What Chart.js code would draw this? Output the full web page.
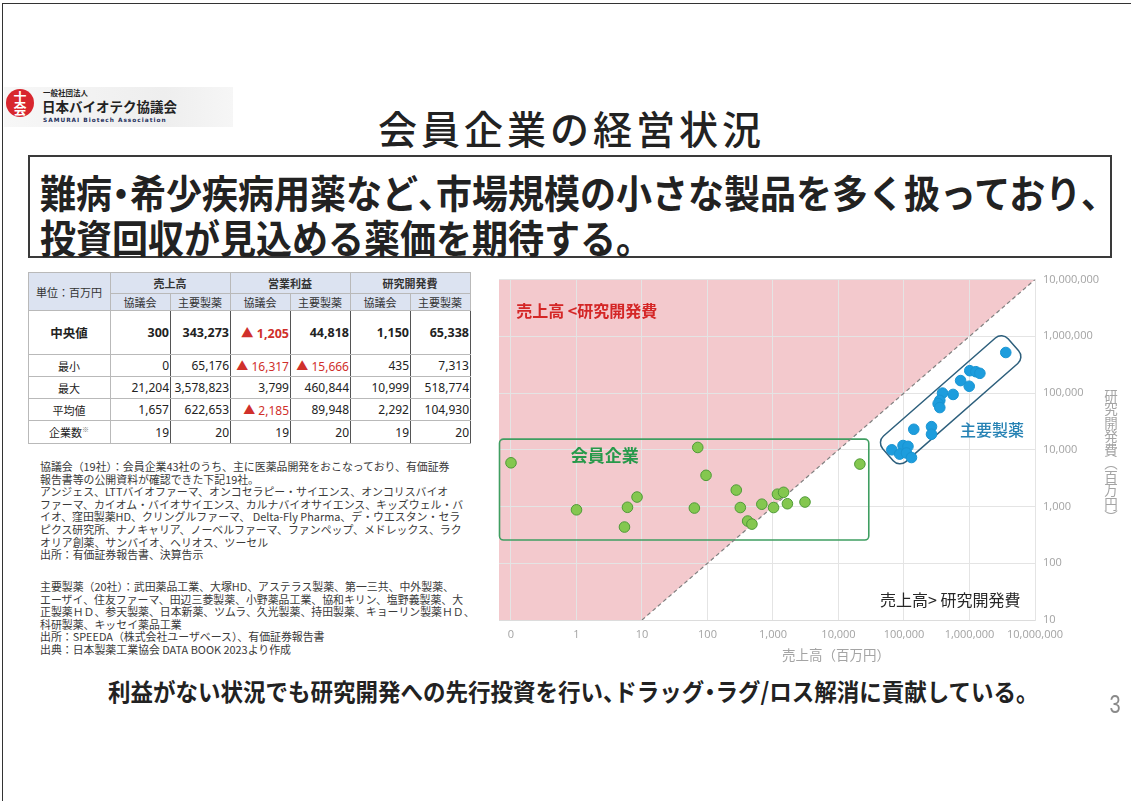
<!DOCTYPE html>
<html lang="ja">
<head>
<meta charset="utf-8">
<title>会員企業の経営状況</title>
<script src="https://cdn.jsdelivr.net/npm/chart.js@4.4.1/dist/chart.umd.min.js"></script>
<style>
  html, body { margin: 0; padding: 0; background: #fff; }
  body {
    width: 1131px; height: 801px; position: relative; overflow: hidden;
    font-family: "Noto Sans CJK JP", "Noto Sans", sans-serif; color: #222;
  }
  .frame { position: absolute; left: 2px; top: 3px; width: 1140px; height: 820px; border: 1.5px solid #333; }

  .logo-bg { position: absolute; left: 4px; top: 87px; width: 229px; height: 40px;
    background: linear-gradient(90deg, #f7f7f7, #eeeeee 70%, #f6f6f6); }
  .logo-mark { position: absolute; left: 6px; top: 89px; width: 28px; height: 28px; border-radius: 50%;
    background: #d8262e; color: #fff; font-weight: 700; font-size: 13px; line-height: 12px;
    text-align: center; padding-top: 2px; box-sizing: border-box; }
  .logo-small { position: absolute; left: 43px; top: 89px; font-size: 7.5px; font-weight: 700; line-height: 8px; }
  .logo-name { position: absolute; left: 42px; top: 99px; font-size: 13.5px; font-weight: 700; line-height: 15px; }
  .logo-en { position: absolute; left: 43px; top: 117px; font-family: "DejaVu Sans", sans-serif; font-size: 5.8px;
    font-weight: 700; letter-spacing: 1px; color: #1d2f5c; line-height: 7px; }

  .title { position: absolute; left: 378px; top: 108px; font-size: 39px; line-height: 39px; font-weight: 500;
    letter-spacing: 4px; color: #222; }

  .lead { position: absolute; left: 28px; top: 155px; width: 1080px; height: 99px; border: 2px solid #3a3a3a; }
  .lead div { position: absolute; left: 10px; font-size: 36px; line-height: 36px; font-weight: 700; color: #222;
    white-space: nowrap; transform: scaleY(1.06); }
  .p { font-feature-settings: "palt"; }

  table.summary { position: absolute; left: 28px; top: 272px; border-collapse: collapse; table-layout: fixed;
    font-family: "Noto Sans", "Noto Sans CJK JP", sans-serif; font-size: 12px; color: #222; }
  table.summary td { border: 1px solid #b9b9b9; padding: 0 1px 0 0; text-align: right; white-space: nowrap; }
  table.summary td.v { border-left: 1px solid #555; border-right: 1px solid #555; }
  table.summary td.h { background: #dce3f1; text-align: center; font-family: "Noto Sans CJK JP", sans-serif; font-size: 11px; color: #333; }
  table.summary td.hb { font-weight: 700; }
  table.summary td.lbl { text-align: center; font-family: "Noto Sans CJK JP", sans-serif; font-size: 11px; }
  table.summary tr.med td { font-weight: 700; font-size: 12.5px; }
  table.summary .neg { color: #d0302b; }
  table.summary sup { font-size: 7px; color: #777; }

  .notes { position: absolute; left: 40px; font-size: 10.9px; line-height: 12.6px; color: #3a3a3a; white-space: pre; }

  .chart-box { position: absolute; left: 490px; top: 265px; width: 641px; height: 400px; }
  .x-title { position: absolute; left: 782px; top: 645px; font-size: 13.5px; line-height: 18px; color: #a4a4a4; }
  .y-title { position: absolute; left: 1103px; top: 389px; font-size: 13.5px; color: #a4a4a4;
    writing-mode: vertical-rl; line-height: 16px; }

  .foot { position: absolute; left: 108px; top: 679px; font-size: 22.5px; line-height: 22px; font-weight: 700;
    white-space: nowrap; transform: scaleY(1.08); color: #222; }
  .page { position: absolute; left: 1108px; top: 690px; font-family: "Liberation Sans", sans-serif; font-size: 25px;
    line-height: 28px; color: #8a8a8a; transform: scaleX(0.8); }
</style>
</head>
<body>
<div class="frame"></div>

<div class="logo-bg"></div>
<div class="logo-mark">士<br>会</div>
<div class="logo-small">一般社団法人</div>
<div class="logo-name">日本バイオテク協議会</div>
<div class="logo-en">SAMURAI Biotech Association</div>

<div class="title">会員企業の経営状況</div>

<div class="lead">
  <div style="top:16px">難病<span class="p">・</span>希少疾病用薬など<span class="p">、</span>市場規模の小さな製品を多く扱っており<span class="p">、</span></div>
  <div style="top:61px">投資回収が見込める薬価を期待する。</div>
</div>

<table class="summary" id="summary"></table>

<div class="notes" style="top:460px">協議会（19社）：会員企業43社のうち、主に医薬品開発をおこなっており、有価証券
報告書等の公開資料が確認できた下記19社。
アンジェス、LTTバイオファーマ、オンコセラピー・サイエンス、オンコリスバイオ
ファーマ、カイオム・バイオサイエンス、カルナバイオサイエンス、キッズウェル・バ
イオ、窪田製薬HD、クリングルファーマ、 Delta-Fly Pharma、デ・ウエスタン・セラ
ピクス研究所、ナノキャリア、ノーベルファーマ、ファンペップ、メドレックス、ラク
オリア創薬、サンバイオ、ヘリオス、ツーセル
出所：有価証券報告書、決算告示</div>

<div class="notes" style="top:580px">主要製薬（20社）：武田薬品工業、大塚HD、アステラス製薬、第一三共、中外製薬、
エーザイ、住友ファーマ、田辺三菱製薬、小野薬品工業、協和キリン、塩野義製薬、大
正製薬ＨＤ、参天製薬、日本新薬、ツムラ、久光製薬、持田製薬、キョーリン製薬ＨＤ、
科研製薬、キッセイ薬品工業
出所：SPEEDA（株式会社ユーザベース）、有価証券報告書
出典：日本製薬工業協会 DATA BOOK 2023より作成</div>

<div class="chart-box"><canvas id="scatter"></canvas></div>
<div class="x-title">売上高（百万円）</div>
<div class="y-title">研究開発費（百万円）</div>

<div class="foot">利益がない状況でも研究開発への先行投資を行い<span class="p">、</span>ドラッグ<span class="p">・</span>ラグ/ロス解消に貢献している。</div>
<div class="page">3</div>

<script>
// ---- 表のデータ（単位：百万円） ----
const tableGroups = ["売上高", "営業利益", "研究開発費"];
const tableSubHeads = ["協議会", "主要製薬"];
const tableRowLabels = ["中央値", "最小", "最大", "平均値", "企業数"];
const tableMedian = [300, 343273, -1205, 44818, 1150, 65338];
const tableMin = [0, 65176, -16317, -15666, 435, 7313];
const tableMax = [21204, 3578823, 3799, 460844, 10999, 518774];
const tableMean = [1657, 622653, -2185, 89948, 2292, 104930];
const tableCount = [19, 20, 19, 20, 19, 20];

// ---- 散布図のデータ ----
// 協議会19社：売上高 / 研究開発費（百万円）
const memberSales = [0, 71, 95, 1, 6, 8.4, 5.4, 63, 275, 317, 410, 477, 675, 1020, 1170, 1450, 1660, 3080, 21204];
const memberRnd = [5900, 10999, 3550, 875, 970, 1470, 435, 940, 1950, 960, 555, 490, 1100, 960, 1650, 1780, 1120, 1200, 5600];
// 主要製薬20社
const majorSales = [3578823, 1010000, 1250000, 1440000, 731000, 990000, 562000, 387000, 352000, 332000,
  352000, 141000, 263000, 263000, 65176, 96600, 115000, 85900, 109000, 130000];
const majorRnd = [518774, 248000, 238000, 223000, 166000, 132000, 94600, 100000, 74300, 65100,
  55500, 23000, 25600, 18800, 10000, 11900, 11500, 8400, 8770, 7313];

const xTicks = [0.1, 1, 10, 100, 1000, 10000, 100000, 1000000, 10000000];
const yTicks = [10, 100, 1000, 10000, 100000, 1000000, 10000000];

// 売上高0 は 0.1 の目盛り（「0」表示）に置く
const zeroAt = 0.1;
const xMin = 0.0656, xMax = 10000000;
const yMin = 10, yMax = 10000000;

//-------------
//- 表 -
//-------------
const rowsData = [tableMedian, tableMin, tableMax, tableMean, tableCount];
const fmt = (v) => v < 0
  ? '<span class="neg">▲ ' + Math.abs(v).toLocaleString('en-US') + '</span>'
  : v.toLocaleString('en-US');

let html = '<colgroup><col style="width:82px">' + '<col style="width:60px">'.repeat(6) + '</colgroup>';
html += '<tr style="height:21px"><td class="h" rowspan="2">単位：百万円</td>';
tableGroups.forEach(g => { html += '<td class="h hb" colspan="2">' + g + '</td>'; });
html += '</tr><tr style="height:17px">';
tableGroups.forEach(() => tableSubHeads.forEach(s => { html += '<td class="h">' + s + '</td>'; }));
html += '</tr>';
const rowHeights = [44, 22, 22, 22, 23];
tableRowLabels.forEach((lbl, r) => {
  html += '<tr class="' + (r === 0 ? 'med' : '') + '" style="height:' + rowHeights[r] + 'px">';
  html += '<td class="lbl">' + lbl + (r === 4 ? '<sup>※</sup>' : '') + '</td>';
  rowsData[r].forEach(v => { html += '<td class="v">' + fmt(v) + '</td>'; });
  html += '</tr>';
});
document.getElementById('summary').innerHTML = html;

//-------------
//- 散布図 -
//-------------
// 注記（値はデータ座標）
const labelNotes = [
  { text: '売上高 <研究開発費', x: 0.12, y: 2800000, align: 'left', color: '#d42626', font: 'bold 16px "Noto Sans CJK JP"' },
  { text: '会員企業', x: 2.7, y: 7800, align: 'center', color: '#27994a', font: 'bold 17px "Noto Sans CJK JP"' },
  { text: '主要製薬', x: 713000, y: 22000, align: 'left', color: '#2682b4', font: '500 16px "Noto Sans CJK JP"' },
  { text: '売上高> 研究開発費', x: 6000000, y: 22.5, align: 'right', color: '#262626', font: '16px "Noto Sans CJK JP"' }
];

const groupBoxes = {
  id: 'groupBoxes',
  beforeDatasetsDraw(chart) {
    const { ctx, scales: { x, y } } = chart;
    ctx.save();
    // 会員企業の枠
    const l = x.getPixelForValue(xMin) + 0.5, r = x.getPixelForValue(29000);
    const t = y.getPixelForValue(15400), b = y.getPixelForValue(257);
    ctx.strokeStyle = '#3f9e61';
    ctx.lineWidth = 1.6;
    ctx.beginPath();
    ctx.roundRect(l, t, r - l, b - t, 4);
    ctx.stroke();
    // 主要製薬の枠（対角方向に傾いた角丸）
    const p1 = { x: x.getPixelForValue(56900), y: y.getPixelForValue(8190) };
    const p2 = { x: x.getPixelForValue(4670000), y: y.getPixelForValue(708000) };
    const len = Math.hypot(p2.x - p1.x, p2.y - p1.y);
    ctx.translate(p1.x, p1.y);
    ctx.rotate(Math.atan2(p2.y - p1.y, p2.x - p1.x));
    ctx.strokeStyle = '#2d5f7c';
    ctx.lineWidth = 1.5;
    ctx.beginPath();
    ctx.roundRect(0, -17, len, 34, 9);
    ctx.stroke();
    ctx.restore();
  },
  afterDatasetsDraw(chart) {
    const { ctx, scales: { x, y } } = chart;
    ctx.save();
    ctx.textBaseline = 'middle';
    labelNotes.forEach(n => {
      ctx.font = n.font;
      ctx.fillStyle = n.color;
      ctx.textAlign = n.align;
      ctx.fillText(n.text, x.getPixelForValue(n.x), y.getPixelForValue(n.y));
    });
    ctx.restore();
  }
};

const tickFont = { family: '"Open Sans", "Noto Sans", sans-serif', size: 11 };

new Chart(document.getElementById('scatter'), {
  type: 'scatter',
  data: {
    datasets: [
      {
        label: '主要製薬',
        data: majorSales.map((v, i) => ({ x: v, y: majorRnd[i] })),
        backgroundColor: '#1d9ddd',
        borderColor: '#1894d2',
        borderWidth: 1,
        pointRadius: 5.3,
        order: 0
      },
      {
        label: '会員企業',
        data: memberSales.map((v, i) => ({ x: v === 0 ? zeroAt : v, y: memberRnd[i] })),
        backgroundColor: '#84c74f',
        borderColor: '#4f9b37',
        borderWidth: 1,
        pointRadius: 5.3,
        order: 1
      },
      {
        // 売上高 < 研究開発費 の領域
        type: 'line',
        data: [{ x: xMin, y: yMin }, { x: 10, y: 10 }, { x: xMax, y: yMax }],
        fill: 'end',
        backgroundColor: '#f3c9cd',
        borderWidth: 0,
        pointRadius: 0,
        order: 3
      },
      {
        // 売上高 = 研究開発費
        type: 'line',
        data: [{ x: 10, y: 10 }, { x: xMax, y: yMax }],
        fill: false,
        borderColor: '#808080',
        borderWidth: 1.2,
        borderDash: [4, 3],
        pointRadius: 0,
        order: 2
      }
    ]
  },
  options: {
    responsive: true,
    maintainAspectRatio: false,
    animation: false,
    layout: { padding: { left: 9, top: 9, right: 26, bottom: 15 } },
    plugins: {
      legend: { display: false },
      tooltip: { enabled: false },
      filler: { drawTime: 'beforeDraw' }
    },
    scales: {
      x: {
        type: 'logarithmic',
        min: xMin,
        max: xMax,
        afterBuildTicks: (s) => { s.ticks = xTicks.map(v => ({ value: v })); },
        afterFit: (s) => { s.height = 30; },
        ticks: {
          autoSkip: false, maxRotation: 0, padding: 8, color: '#a3a3a3', font: tickFont,
          callback: (v) => v === zeroAt ? '0' : Number(v).toLocaleString('en-US')
        },
        grid: { color: '#e4e4e4', drawTicks: false },
        border: { color: '#dcdcdc' }
      },
      y: {
        type: 'logarithmic',
        position: 'right',
        min: yMin,
        max: yMax,
        afterBuildTicks: (s) => { s.ticks = yTicks.map(v => ({ value: v })); },
        afterFit: (s) => { s.width = 70; },
        ticks: {
          padding: 8, color: '#a3a3a3', font: tickFont,
          callback: (v) => Number(v).toLocaleString('en-US')
        },
        grid: { color: '#e4e4e4', drawTicks: false },
        border: { color: '#e4e4e4' }
      }
    }
  },
  plugins: [groupBoxes]
});
</script>
</body>
</html>
